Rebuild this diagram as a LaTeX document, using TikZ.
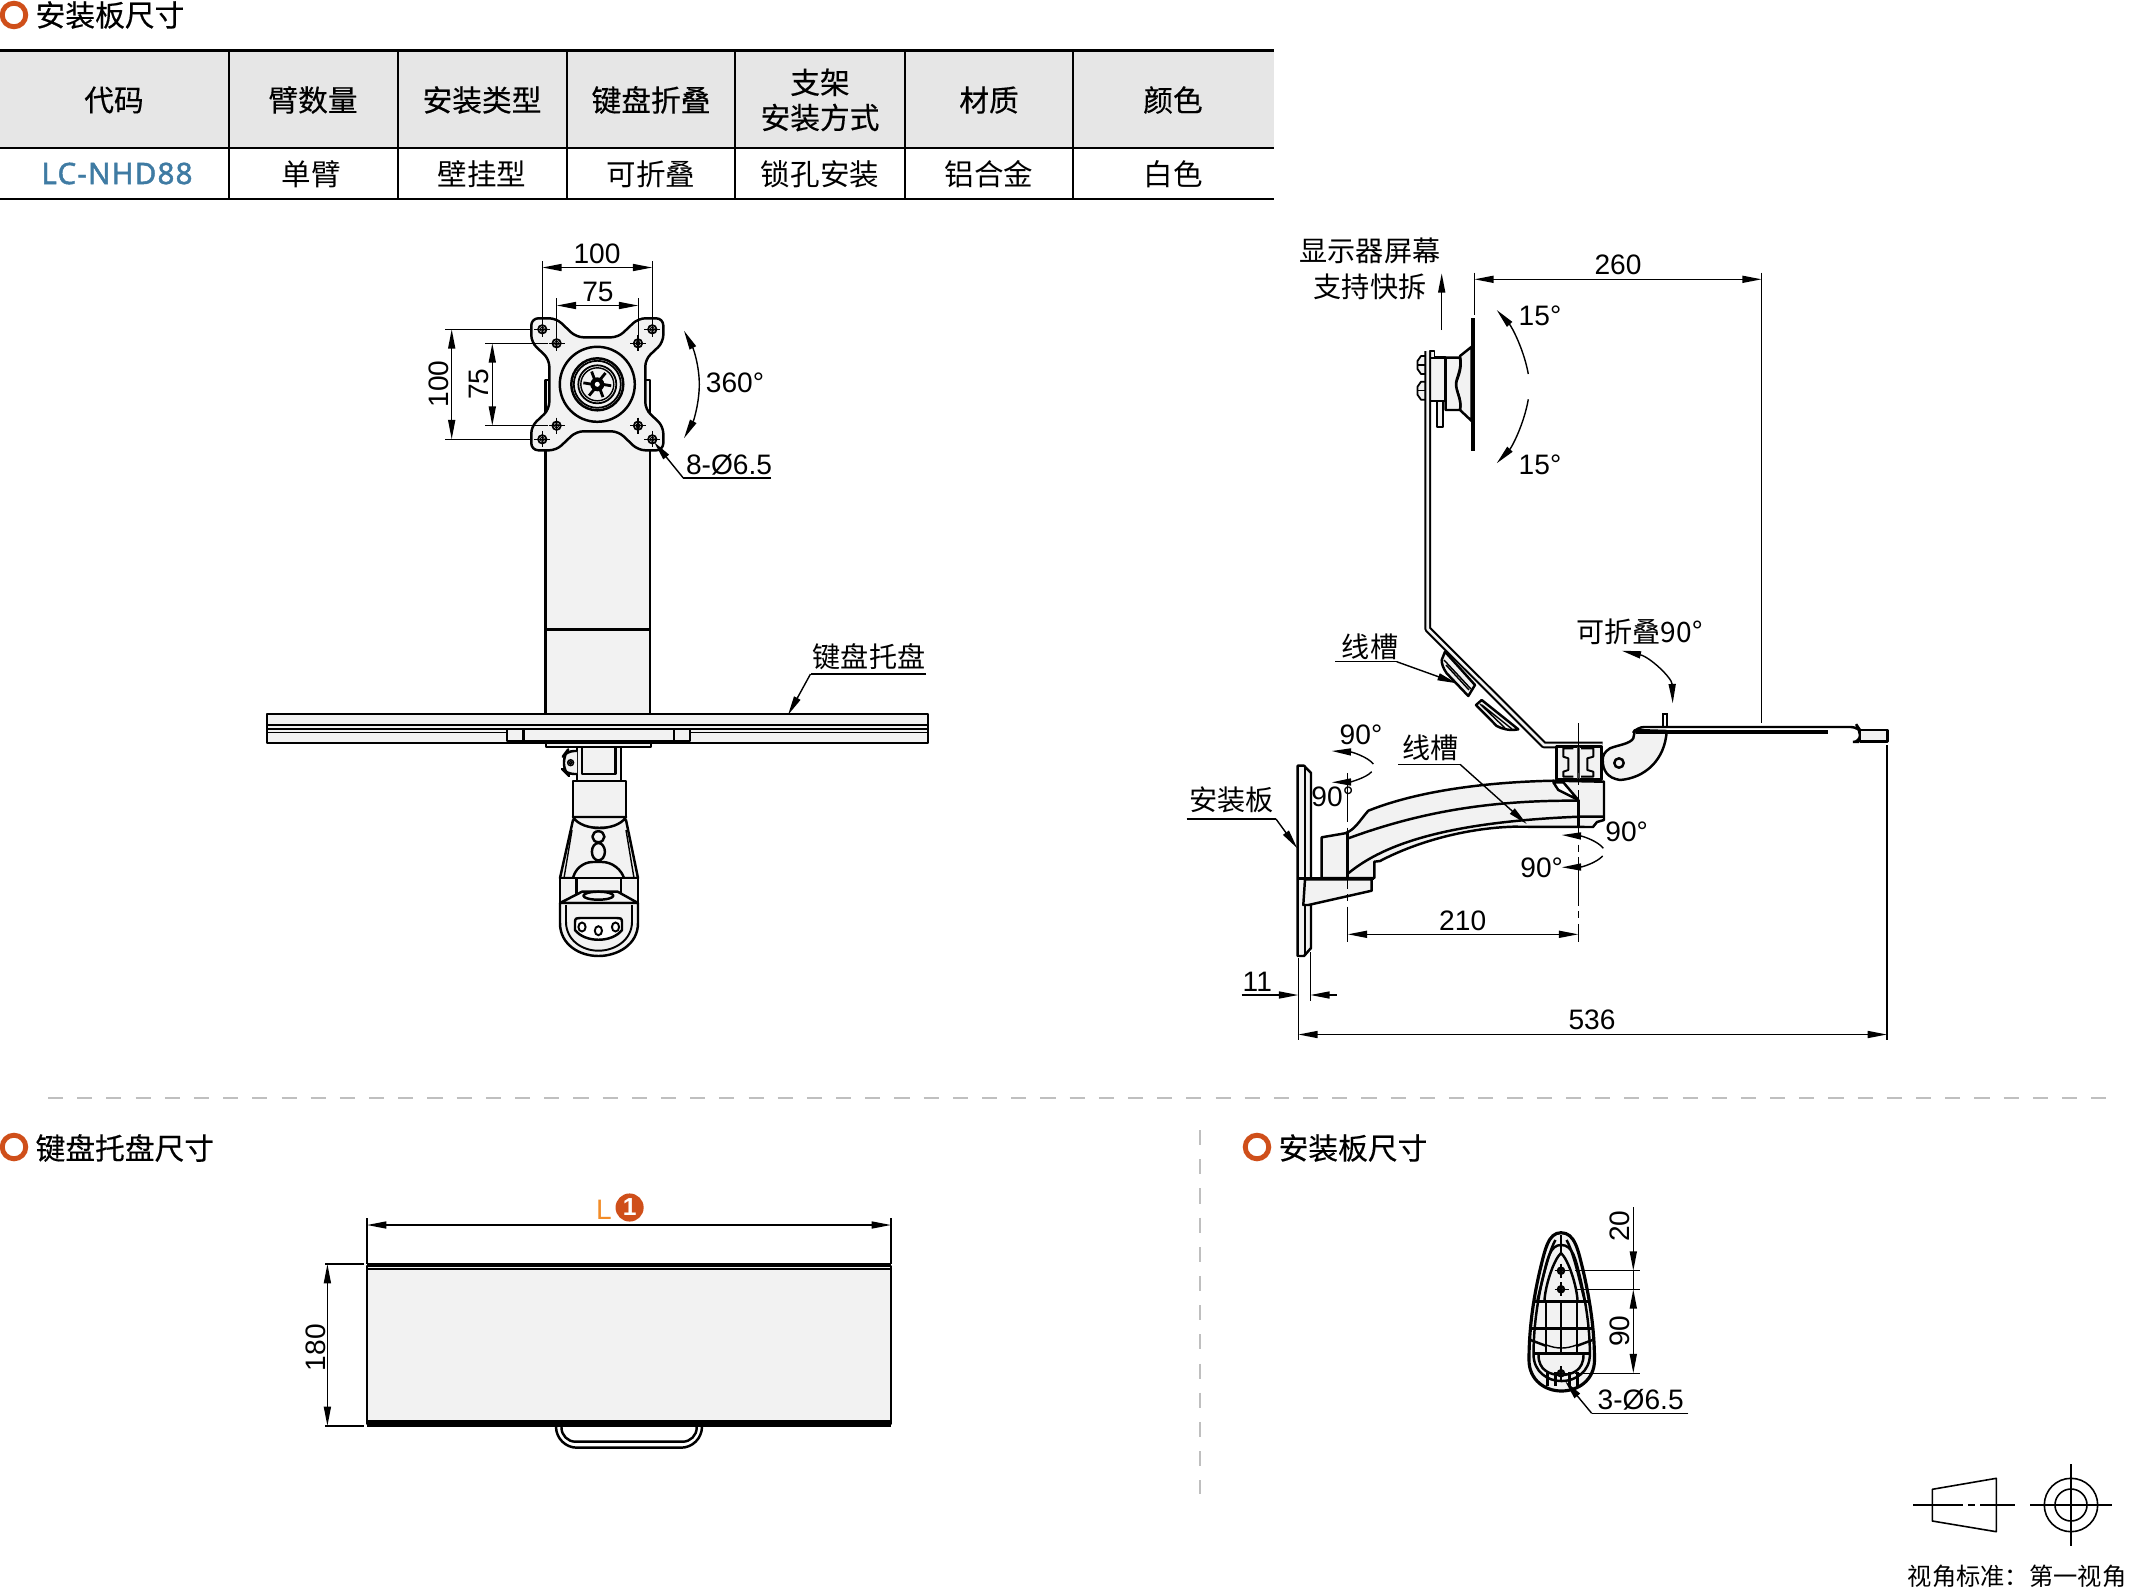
\documentclass[tikz,border=0pt]{standalone}
\usepackage{fontspec}
\usepackage{xcolor}
\usetikzlibrary{arrows.meta}
\setmainfont{Liberation Sans}
\newfontfamily\cjk{Noto Sans CJK SC}
\newfontfamily\cjkbold[FakeBold=0.35]{Noto Sans CJK SC}
\newfontfamily\codefont[LetterSpace=4,FakeBold=1.6]{Noto Sans}
\definecolor{partgray}{HTML}{F2F2F2}
\definecolor{headgray}{HTML}{E6E6E6}
\definecolor{ringred}{HTML}{CF4F1A}
\definecolor{codeblue}{HTML}{3F7BA3}
\definecolor{lorange}{HTML}{F28C28}
\tikzset{
  part/.style={draw=black, line width=0.7pt, fill=partgray, line join=round},
  edge/.style={draw=black, line width=0.7pt, line join=round},
  fine/.style={draw=black, line width=0.4pt},
  dimline/.style={fine, {Stealth[length=5.5pt,width=2pt,inset=0pt]}-{Stealth[length=5.5pt,width=2pt,inset=0pt]}},
  endtip/.style={fine, -{Stealth[length=5.5pt,width=2pt,inset=0pt]}},
  axis/.style={fine, dash pattern=on 14pt off 1.5pt on 2pt off 1.5pt},
  dimtxt/.style={inner sep=0pt, font=\fontsize{8}{10}\selectfont},
  cjktxt/.style={inner sep=0pt, align=center, font=\fontsize{8}{10.3}\selectfont\cjk},
  headtxt/.style={inner sep=0pt, align=center, font=\fontsize{8.45}{10}\selectfont\cjkbold},
  celltxt/.style={inner sep=0pt, align=center, font=\fontsize{8.4}{10}\selectfont\cjk},
  secline/.style={line width=0.3pt, draw=black!25},
  ring/.style={circle, draw=ringred, line width=1.4pt, fill=white, minimum size=6.7pt, inner sep=0pt}
}
\begin{document}
\begin{tikzpicture}[x=0.01cm,y=-0.01cm]
\useasboundingbox (0,0) rectangle (2129,1593);

% table
\fill[headgray] (0,50) rectangle (1274,148);
\draw[line width=0.8pt] (0,50.5) -- (1274,50.5);
\draw[line width=0.8pt] (0,148) -- (1274,148);
\draw[line width=0.8pt] (0,199) -- (1274,199);
\draw[line width=0.7pt] (229,50) -- (229,199);
\foreach \colx in {398,567,735,905,1073}
  \draw[line width=0.35pt] (\colx,50) -- (\colx,199);
\node[ring] (ringTop) at (14,15) {};
\node[headtxt,anchor=west] (secTop) at (35,15) {安装板尺寸};
\node[headtxt] (hCode) at (114,100) {代码};
\node[headtxt] (hArm) at (313,100) {臂数量};
\node[headtxt] (hMount) at (482,100) {安装类型};
\node[headtxt] (hFold) at (651,100) {键盘折叠};
\node[headtxt] (hBracket) at (820,100) {支架\\安装方式};
\node[headtxt] (hMat) at (989,100) {材质};
\node[headtxt] (hColor) at (1173,100) {颜色};
\node[inner sep=0pt,text=codeblue,font=\fontsize{8.4}{10}\selectfont\codefont] (vCode) at (117,173.5) {LC-NHD88};
\node[celltxt] (vArm) at (311,174) {单臂};
\node[celltxt] (vMount) at (482,174) {壁挂型};
\node[celltxt] (vFold) at (651,174) {可折叠};
\node[celltxt] (vBracket) at (820,174) {锁孔安装};
\node[celltxt] (vMat) at (989,174) {铝合金};
\node[celltxt] (vColor) at (1173,174) {白色};

% front view: column and tray
\draw[part] (545.5,380) rectangle (650,714);
\draw[edge] (545.5,629.5) -- (650,629.5);
\draw[part] (267,714) rectangle (928,743);
\draw[edge] (267,725) -- (928,725);
\draw[edge] (267,729) -- (928,729);
\draw[fine] (267,732.5) -- (507,732.5) (690,732.5) -- (928,732.5);
\draw[part] (507,729) rectangle (690,741);
\draw[edge] (523.5,729) -- (523.5,741);
\draw[edge] (674,729) -- (674,741);
\draw[part] (546,743) rectangle (651,747);
\draw[part] (577,747) rectangle (621,781);
\draw[edge] (582,747) -- (582,774) -- (615.5,774) -- (615.5,747);
\draw[part, rounded corners=2pt] (577,751) -- (567,751) -- (564,755) -- (564,771) -- (567,774) -- (577,774);
\draw[fine] (570.6,762.7) circle [radius=3];
\draw[fine] (570.6,762.7) circle [radius=1.5];

% front view: arm end seen from the front
\draw[part] (573,820) -- (560,878) -- (638,878) -- (626,820) -- cycle;
\draw[fine] (572,830) -- (564,878) (626,830) -- (634,878);
\draw[part] (573,781) rectangle (626,817);
\draw[part] (573,817) .. controls (578,825) and (590,828) .. (599.5,828) .. controls (609,828) and (621,825) .. (626,817) -- cycle;
\fill (578,823) .. controls (585,826) and (590,826) .. (594,829) -- (605,829) .. controls (610,826) and (615,826) .. (621,823) .. controls (612,828) and (586,828) .. (578,823) -- cycle;
\draw[part] (598.4,851.7) ellipse [x radius=6.5, y radius=8.7];
\draw[part] (598.4,836.7) ellipse [x radius=6, y radius=5.5];
\draw[part, rounded corners=5pt] (573,878) -- (575,862) -- (620,862) -- (624,878);
\draw[part] (560,878) rectangle (638,904);
\draw[part] (576.5,878) rectangle (621,895);
\draw[part] (560,903) -- (582,891.7) -- (617.7,891.7) -- (638,903) -- cycle;
\draw[part] (598.4,895.7) ellipse [x radius=15, y radius=4];
\draw[part] (560,903) -- (560,923) .. controls (560,945) and (580,956) .. (598.4,956) .. controls (617,956) and (638,945) .. (638,923) -- (638,903) -- cycle;
\draw[fine,line width=0.55pt] (566,905) -- (566,921.7) .. controls (566,940) and (582,950.7) .. (598.4,950.7) .. controls (615,950.7) and (632,940) .. (632,921.7) -- (632,905);
\draw[edge,fill=white] (575,922) .. controls (575,918) and (577,918) .. (580,918) -- (617,918) .. controls (620,918) and (622,918) .. (622,922) -- (622,930) .. controls (612,943) and (585,943) .. (575,930) -- cycle;
\foreach \hx/\hy in {582/927,598.4/930.7,615.5/927}
  \draw[fine,line width=0.55pt] (\hx,\hy) ellipse [x radius=3.6, y radius=4.5];

% front view: plate with holes
\begin{scope}[shift={(597.3,384.3)}]
\draw[part, rounded corners=2pt] (-66,-66) -- (-41,-66) -- (-21,-47) -- (21,-47) -- (41,-66) -- (66,-66) -- (66,-42) -- (48,-25) -- (48,25) -- (66,42) -- (66,66) -- (41,66) -- (21,47) -- (-21,47) -- (-41,66) -- (-66,66) -- (-66,42) -- (-48,25) -- (-48,-25) -- (-66,-42) -- cycle;
\draw[edge] (0,0) circle [radius=37.5];
\draw[edge] (0,0) circle [radius=26];
\draw[edge,line width=0.5pt] (0,0) circle [radius=23.5];
\draw[edge,line width=0.5pt] (0,0) circle [radius=19];
\draw[fine] (0,0) circle [radius=16.5];
\foreach \spoke in {0,60,...,300}
  \draw[edge,line width=0.8pt] (\spoke:5) -- (\spoke+6:14);
\fill (0,0) circle [radius=7];
\fill[white] (0,0) circle [radius=2.5];
\foreach \hx/\hy in {-55/-55,55/-55,-55/55,55/55,-40.7/-41,40.7/-41,-40.7/41.4,40.7/41.4} {
  \draw[fine,line width=0.5pt] (\hx,\hy) circle [radius=4.2];
  \draw[fine,line width=0.3pt] (\hx,\hy) circle [radius=2];
  \draw[fine,line width=0.3pt] (\hx-8,\hy) -- (\hx+8,\hy) (\hx,\hy-8) -- (\hx,\hy+8);
}
\end{scope}

% front view: dimensions
\draw[fine] (542.3,261) -- (542.3,322) (652.3,261) -- (652.3,322);
\draw[fine] (556.7,298) -- (556.7,336) (638.3,298) -- (638.3,336);
\draw[dimline] (542.3,267.5) -- (652.3,267.5);
\draw[dimline] (556.7,305.5) -- (638.3,305.5);
\draw[fine] (445,329.3) -- (532,329.3) (445,439.3) -- (532,439.3);
\draw[fine] (485,343.3) -- (548,343.3) (485,425.7) -- (548,425.7);
\draw[dimline] (451.7,329.3) -- (451.7,439.3);
\draw[dimline] (492.3,343.3) -- (492.3,425.7);
\node[dimtxt] (dimTopW) at (597,254) {100};
\node[dimtxt] (dimInW) at (598,291.5) {75};
\node[dimtxt,rotate=90] (dimTopH) at (438.5,384) {100};
\node[dimtxt,rotate=90] (dimInH) at (479,384) {75};
\draw[dimline] (684,330.7) .. controls (694,350) and (699.3,367) .. (699.3,384.3) .. controls (699.3,402) and (694,420) .. (684,438.3);
\node[dimtxt] (rotText) at (735,382.5) {360°};
\coordinate (holeTip) at (654,442);
\coordinate (holeKnee) at (683.3,478);
\coordinate (holeEnd) at (771,478);
\draw[fine] (holeEnd) -- (holeKnee);
\draw[endtip] (holeKnee) -- (holeTip);
\node[dimtxt] (holeText) at (729,465) {8-Ø6.5};
\node[cjktxt] (trayText) at (869,657) {键盘托盘};
\coordinate (trayKnee) at (810.5,674);
\coordinate (trayTip) at (788,715);
\draw[fine] (926,674) -- (trayKnee);
\draw[endtip] (trayKnee) -- (trayTip);

% side view: screen mount
\draw[part] (1471.7,346.7) -- (1460,356) .. controls (1463,370) and (1456,380) .. (1456,384) .. controls (1456,392) and (1462,398) .. (1460,410) -- (1471.7,421) -- cycle;
\draw[part] (1445.7,357.7) -- (1460,357.7) .. controls (1462,370) and (1456,378) .. (1456,384) .. controls (1456,392) and (1462,400) .. (1460,410) -- (1445.7,410) -- cycle;
\draw[part] (1430,357.7) rectangle (1445.7,401);
\draw[part,line width=0.5pt] (1436.7,401) rectangle (1442.7,426.7);
\draw[line width=1.1pt] (1473.3,318.3) -- (1473.3,450.7);
\draw[part,line width=0.5pt] (1430,351) rectangle (1434.5,358);
\foreach \nuty in {365,390.7} {
  \draw[part,line width=0.5pt] (1425.7,\nuty-9) -- (1421,\nuty-9) -- (1417.5,\nuty-4) -- (1417.5,\nuty+4) -- (1421,\nuty+9) -- (1425.7,\nuty+9) -- cycle;
  \draw[fine,line width=0.3pt] (1417.5,\nuty) -- (1425.7,\nuty);
}
\draw[line width=0.6pt, double=partgray, double distance=0.75pt, line join=round] (1427.8,351) -- (1427.8,629) -- (1544,745) -- (1602.7,745);
\draw[part] (1445,651.7) -- (1475,685) -- (1468.3,696) -- (1446.7,673.3) .. controls (1443,668) and (1441.7,664) .. (1441.7,660) -- cycle;
\draw[fine] (1444,660) -- (1471,689) (1446,665) -- (1469,690);
\draw[part] (1481.7,700) -- (1518.3,729.3) .. controls (1510,731) and (1502,729) .. (1496.7,726) -- (1476,705) -- cycle;
\draw[fine] (1482,705) -- (1512,729) (1480,704) -- (1505,728);
\node[cjktxt] (screenText) at (1370,268.5) {显示器屏幕\\支持快拆};
\coordinate (liftStart) at (1441.7,330);
\coordinate (liftTip) at (1441.7,273.3);
\draw[endtip] (liftStart) -- (liftTip);
\draw[fine] (1474.3,272.7) -- (1474.3,315);
\draw[fine] (1761.7,272.7) -- (1761.7,722.7);
\draw[dimline] (1474.3,279.3) -- (1761.7,279.3);
\node[dimtxt] (dimReach) at (1618,265) {260};
\draw[endtip] (1528.3,374) .. controls (1524,350) and (1512,327) .. (1496.7,310);
\draw[endtip] (1528.3,399.3) .. controls (1524,424) and (1512,447) .. (1496.7,463.3);
\node[dimtxt] (tiltUp) at (1540,316) {15°};
\node[dimtxt] (tiltDown) at (1540,465) {15°};

% side view: hinge, channel and tray
\draw[part] (1556.7,746.7) rectangle (1601.7,779.3);
\draw[edge,line width=0.55pt] (1573.3,748.3) -- (1563.3,748.3) -- (1563.3,756.7) -- (1568.3,758.3) -- (1568.3,770) -- (1563.3,771.7) -- (1563.3,776.7) -- (1573.3,776.7);
\draw[edge,line width=0.55pt] (1581,748.3) -- (1593.3,748.3) -- (1593.3,756.7) -- (1587.3,758.3) -- (1587.3,770) -- (1593.3,771.7) -- (1593.3,776.7) -- (1581,776.7);
\fill[black!75] (1576.5,747) rectangle (1580,779);
\draw[part] (1635,730) -- (1633.3,738.3) .. controls (1630,744) and (1618,745) .. (1610,748.3) .. controls (1604,752) and (1602.7,756) .. (1602.7,760) .. controls (1602.7,770) and (1607,778) .. (1620,780) .. controls (1645,778) and (1665,760) .. (1666.7,731) -- cycle;
\draw[edge] (1619,763) circle [radius=4.7];
\draw[line width=0.7pt, rounded corners=2pt] (1635,730) -- (1637,727) -- (1858,727) -- (1860,730) -- (1860,742) -- (1859,742);
\draw[line width=1.2pt] (1636,731.7) -- (1828,731.7);
\draw[line width=0.5pt] (1663.3,727) -- (1663.3,714.3) -- (1666.7,714.3) -- (1666.7,727);
\draw[part] (1860,730) rectangle (1887.7,741.7);
\coordinate (foldStart) at (1621.7,650.7);
\coordinate (foldEnd) at (1672.7,703.3);
\draw[dimline] (foldStart) .. controls (1650,657) and (1672,678) .. (foldEnd);
\node[cjktxt] (foldText) at (1639.5,632) {可折叠90°};

% side view: arm and wall plate
\draw[part] (1297.7,765.7) -- (1304,765.7) -- (1311,773) -- (1311,948) -- (1304,956) -- (1297.7,956) -- cycle;
\draw[edge] (1305,765.7) -- (1305,956);
\draw[part] (1305,879.3) -- (1371.7,879.3) -- (1371.7,890.7) -- (1308.3,905) -- (1303.3,905) -- cycle;
\draw[part] (1321.7,878) -- (1321.7,837.3) -- (1345,833.3) .. controls (1355,830) and (1360,820) .. (1368.3,810.7) .. controls (1420,790) and (1490,782) .. (1553.3,780.7) -- (1604,781.7) -- (1604,820) -- (1597,822) -- (1593,827) -- (1513,826.7) .. controls (1470,828) and (1420,840) .. (1380,861) -- (1374.3,861.7) -- (1374.3,878) -- cycle;
\draw[edge] (1348.3,838.3) .. controls (1420,812) and (1490,800) .. (1578.3,800.7);
\draw[edge] (1348.3,873.3) .. controls (1385,843) and (1450,822) .. (1578.3,816.7) -- (1604,816.7);
\draw[edge] (1347.7,833.3) -- (1347.7,878);
\draw[edge] (1578.3,800) -- (1578.3,827);
\draw[edge,fill=white] (1553.3,782.3) -- (1558.3,790) -- (1578.3,800) -- (1563.3,782.3) -- cycle;
\draw[line width=1pt] (1297.7,878.3) -- (1374.3,878.3);
\draw[axis] (1347.7,773) -- (1347.7,941.7);
\draw[axis] (1578.3,723.3) -- (1578.3,941.7);

% side view: dimensions and labels
\draw[dimline] (1347.7,934.3) -- (1578.3,934.3);
\node[dimtxt] (dimArm) at (1462.7,921) {210};
\draw[fine] (1298.3,958) -- (1298.3,1040);
\draw[fine] (1310.3,952) -- (1310.3,1001);
\draw[fine] (1887,745) -- (1887,1040);
\draw[endtip] (1241.7,995) -- (1298.3,995);
\draw[endtip] (1336.7,995) -- (1310.3,995);
\node[dimtxt] (dimPlate) at (1257.3,981.7) {11};
\draw[dimline] (1298.3,1034.5) -- (1887,1034.5);
\node[dimtxt] (dimTotal) at (1592,1020) {536};
\node[cjktxt] (slotUpper) at (1370,646.7) {线槽};
\coordinate (slotUpperKnee) at (1396.7,661.7);
\coordinate (slotUpperTip) at (1456.7,683.3);
\draw[fine] (1335,661.7) -- (slotUpperKnee);
\draw[endtip] (slotUpperKnee) -- (slotUpperTip);
\node[cjktxt] (slotLower) at (1430.7,748.3) {线槽};
\coordinate (slotLowerKnee) at (1460,764.3);
\coordinate (slotLowerTip) at (1526.7,824);
\draw[fine] (1398,764.3) -- (slotLowerKnee);
\draw[endtip] (slotLowerKnee) -- (slotLowerTip);
\node[cjktxt] (plateText) at (1231.7,800) {安装板};
\coordinate (plateKnee) at (1276,819);
\coordinate (plateTip) at (1297.3,848.3);
\draw[fine] (1186.7,819) -- (plateKnee);
\draw[endtip] (plateKnee) -- (plateTip);
\draw[endtip] (1373.3,764) .. controls (1368,757) and (1352,752) .. (1331.7,751);
\draw[endtip] (1371.7,771.7) .. controls (1366,778) and (1350,782) .. (1331.7,782.3);
\draw[endtip] (1603.3,848.3) .. controls (1598,841) and (1582,836) .. (1561.7,835);
\draw[endtip] (1602.7,856) .. controls (1596,863) and (1582,867) .. (1561.7,867.3);
\node[dimtxt] (swingA) at (1361,735) {90°};
\node[dimtxt] (swingB) at (1332.7,796.7) {90°};
\node[dimtxt] (swingC) at (1626.7,831.7) {90°};
\node[dimtxt] (swingD) at (1541.7,868.3) {90°};

% separators
\draw[secline, dash pattern=on 4.3pt off 4pt] (48,1098) -- (2108,1098);
\draw[secline, dash pattern=on 4.3pt off 4pt] (1200,1130) -- (1200,1494);

% tray from above
\node[ring] (ringTray) at (14,1147) {};
\node[headtxt,anchor=west] (secTray) at (35,1148) {键盘托盘尺寸};
\draw[fine] (367,1218) -- (367,1264) (891,1218) -- (891,1264);
\draw[dimline] (367,1225) -- (891,1225);
\node[inner sep=0pt,text=lorange,font=\fontsize{8}{10}\selectfont] (lenText) at (604,1210) {L};
\node[circle,fill=ringred,text=white,inner sep=0pt,minimum size=8pt,font=\fontsize{7}{8}\selectfont\bfseries] (lenMark) at (629.6,1207.5) {1};
\draw[part] (367,1266) rectangle (891,1424);
\draw[edge] (367,1264.5) -- (891,1264.5);
\draw[edge] (367,1269) -- (891,1269);
\draw[edge] (367,1421.7) -- (891,1421.7);
\draw[edge] (367,1426) -- (891,1426);
\draw[edge, rounded corners=6pt] (556,1426) -- (556,1447.7) -- (702,1447.7) -- (702,1426);
\draw[edge, rounded corners=4pt] (561.5,1426) -- (561.5,1441.7) -- (696.7,1441.7) -- (696.7,1426);
\draw[fine] (325,1264) -- (364,1264) (325,1426) -- (364,1426);
\draw[dimline] (327.4,1264) -- (327.4,1426);
\node[dimtxt,rotate=90] (dimDepth) at (316,1347.7) {180};

% mounting plate from the front
\node[ring] (ringPlate) at (1257,1147) {};
\node[headtxt,anchor=west] (secPlate) at (1278,1148) {安装板尺寸};
\begin{scope}[shift={(1561.5,1320)}]
\def\dropshape{(-0.5,-87.3) .. controls (13.5,-87.3) and (16.5,-70) .. (21.5,-50) .. controls (28.5,-20) and (33,10) .. (33,40) .. controls (33,60) and (16.5,71) .. (0,71) .. controls (-16.5,71) and (-32.5,60) .. (-32.5,40) .. controls (-32.5,10) and (-28.5,-20) .. (-21.5,-50) .. controls (-16.5,-70) and (-13.5,-87.3) .. cycle}
\draw[part,line width=0.9pt] \dropshape;
\draw[edge,scale=0.86] \dropshape;
\draw[edge] (-0.5,-67) .. controls (-8,-60) and (-16,-35) .. (-17,-20) (-0.5,-67) .. controls (7,-60) and (15,-35) .. (16,-20);
\draw[edge] (-0.5,-85) -- (-0.5,-67);
\draw[edge] (-6,-80) .. controls (-12,-70) and (-18,-45) .. (-24,-20) (5,-80) .. controls (11,-70) and (17,-45) .. (23,-20);
\draw[edge] (-27,-18.5) -- (26,-18.5);
\draw[edge] (-31,8.5) -- (31,8.5);
\draw[edge] (-28,33.5) -- (28,33.5);
\foreach \ribx in {-15.5,-0.5,15.5}
  \draw[edge] (\ribx,-18.5) -- (\ribx,33.5);
\draw[edge] (-31,20) -- (-15,26) (31,20) -- (15,26);
\draw[fine] (-15,25) .. controls (-5,29) and (5,29) .. (15,25);
\draw[edge] (-23,35) .. controls (-23,50) and (-12,55) .. (-0.5,55) .. controls (11,55) and (22,50) .. (22,35);
\foreach \ribx in {-14,-6,8,16}
  \draw[edge] (\ribx,52) -- (\ribx,66);
\foreach \hy in {-49.3,-30.7,53.3} {
  \draw[edge,fill=black!45] (-0.5,\hy) circle [radius=3];
  \draw[fine] (-7,\hy) -- (7,\hy) (-0.5,\hy-7) -- (-0.5,\hy+7);
}
\end{scope}
\draw[fine] (1575,1270.7) -- (1640,1270.7) (1575,1289.3) -- (1640,1289.3) (1575,1373.3) -- (1640,1373.3);
\coordinate (dropTop) at (1633.3,1207.3);
\coordinate (dropHoleA) at (1633.3,1270.7);
\coordinate (dropHoleB) at (1633.3,1289.3);
\coordinate (dropHoleC) at (1633.3,1373.3);
\draw[endtip] (dropTop) -- (dropHoleA);
\draw[fine] (dropHoleA) -- (dropHoleB);
\draw[dimline] (dropHoleB) -- (dropHoleC);
\node[dimtxt,rotate=90] (dimDropA) at (1620,1226) {20};
\node[dimtxt,rotate=90] (dimDropB) at (1620,1331) {90};
\coordinate (dropKnee) at (1591.7,1413.3);
\coordinate (dropTip) at (1565,1381);
\draw[fine] (1688.3,1413.3) -- (dropKnee);
\draw[endtip] (dropKnee) -- (dropTip);
\node[dimtxt] (dropText) at (1640.7,1400) {3-Ø6.5};

% projection symbol
\draw[edge,line width=0.45pt] (1932.3,1489.3) -- (1996.3,1478.3) -- (1996.3,1531.7) -- (1932.3,1521) -- cycle;
\draw[fine,line width=0.3pt, dash pattern=on 14pt off 1.5pt on 2pt off 1.5pt] (1913.3,1505) -- (2015,1505);
\draw[edge,line width=0.45pt] (2071,1505) circle [radius=26.7];
\draw[edge,line width=0.45pt] (2071,1505) circle [radius=16];
\draw[fine,line width=0.3pt] (2030,1505) -- (2112.3,1505) (2071,1464) -- (2071,1546);
\node[inner sep=0pt,anchor=east,font=\fontsize{6.9}{8}\selectfont\cjk] (viewText) at (2127,1576.5) {视角标准：第一视角};
\end{tikzpicture}
\end{document}
